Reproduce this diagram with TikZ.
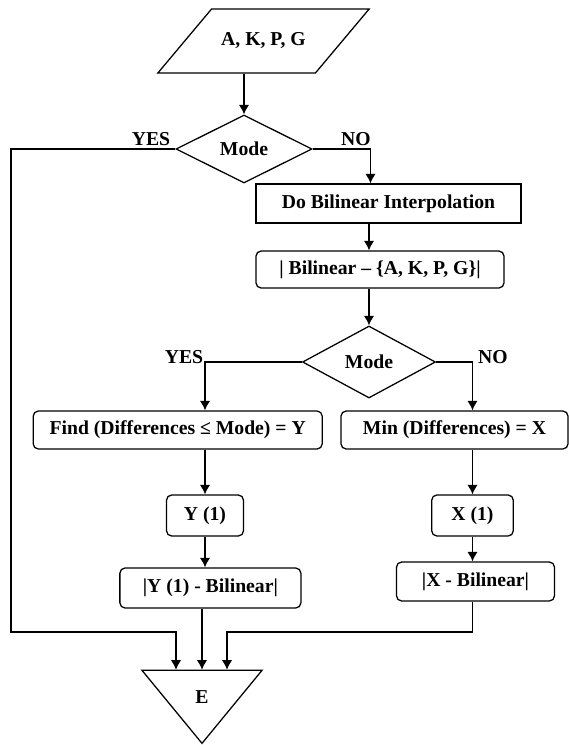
\documentclass[tikz,border=0pt]{standalone}
\usepackage{fontspec}
\setmainfont{Liberation Serif}
\usetikzlibrary{shapes.geometric,calc,arrows.meta}

\begin{document}
\begin{tikzpicture}[x=0.025cm, y=-0.025cm, >={Latex[length=2.4mm,width=2.6mm]},
    line width=0.9pt,
    every node/.style={font=\fontsize{14}{17}\selectfont\bfseries},
    box/.style={draw, rectangle, inner sep=0pt},
    rbox/.style={box, rounded corners=1.3mm},
    rombo/.style={draw, diamond, inner sep=0pt},
    flow/.style={->}]
    \useasboundingbox (0,0) rectangle (569,745);

    % Ingresso
    \node[draw, trapezium, trapezium left angle=50, trapezium right angle=130,
          inner xsep=0.24cm, inner ysep=0.6cm] (inp) at (263.5,41) {A, K, P, G};

    % Primo test
    \node[rombo, minimum width=3.4cm, minimum height=1.7cm] (d1) at (244,149) {Mode};
    \node (yes1) at (151,139.5) {YES};
    \node (no1) at (356,139.5) {NO};

    % Interpolazione
    \node[box, minimum width=6.625cm, minimum height=0.975cm] (bil) at (388.5,203.5) {Do Bilinear Interpolation};
    \node[rbox, minimum width=6.2cm, minimum height=0.925cm] (diff) at (380,269.5) {| Bilinear – \{A, K, P, G\}|};

    % Secondo test
    \node[rombo, minimum width=3.325cm, minimum height=1.8cm] (d2) at (369,362) {Mode};
    \node (yes2) at (184,357) {YES};
    \node (no2) at (493,357) {NO};

    % Rami
    \node[rbox, minimum width=7.225cm, minimum height=0.95cm] (find) at (177.7,430) {Find (Differences ≤ Mode) = Y};
    \node[rbox, minimum width=5.675cm, minimum height=0.95cm] (minx) at (454.5,430) {Min (Differences) = X};
    \node[rbox, minimum width=1.925cm, minimum height=1.025cm] (y1) at (205,515.5) {Y (1)};
    \node[rbox, minimum width=2.04cm, minimum height=1.025cm] (x1) at (472.5,515.5) {X (1)};
    \node[rbox, minimum width=4.525cm, minimum height=1cm] (ybil) at (210.4,588) {|Y (1) - Bilinear|};
    \node[rbox, minimum width=3.95cm, minimum height=0.975cm] (xbil) at (475.5,581.5) {|X - Bilinear|};

    % Uscita
    \node[draw, isosceles triangle, shape border rotate=-90, isosceles triangle stretches,
          minimum width=3cm, minimum height=1.825cm, inner sep=0pt, anchor=apex] (E) at (202,745) {E};

    % Collegamenti
    \coordinate (lft) at (11,632);
    \draw[flow] (inp.south -| d1) -- (d1.north);
    \draw[flow] (d1.east) -| ($(bil.north)+(-18,0)$);
    \draw[flow] (bil.south -| d2) -- (d2 |- diff.north);
    \draw[flow] (diff.south -| d2) -- (d2.north);
    \draw[flow] (d2.west) -| (find.north -| y1);
    \draw[flow] (d2.east) -| (minx.north -| x1);
    \draw[flow] (find.south -| y1) -- (y1.north);
    \draw[flow] (minx.south -| x1) -- (x1.north);
    \draw[flow] (y1.south) -- (y1 |- ybil.north);
    \draw[flow] (x1.south) -- (x1 |- xbil.north);
    \draw[flow] (d1.west) -| (lft) -| ($(E.north)+(-26,0)$);
    \draw[flow] (ybil.south -| E.north) -- (E.north);
    \draw[flow] (xbil.south -| x1) -- (x1 |- lft) -| ($(E.north)+(25,0)$);
\end{tikzpicture}
\end{document}
